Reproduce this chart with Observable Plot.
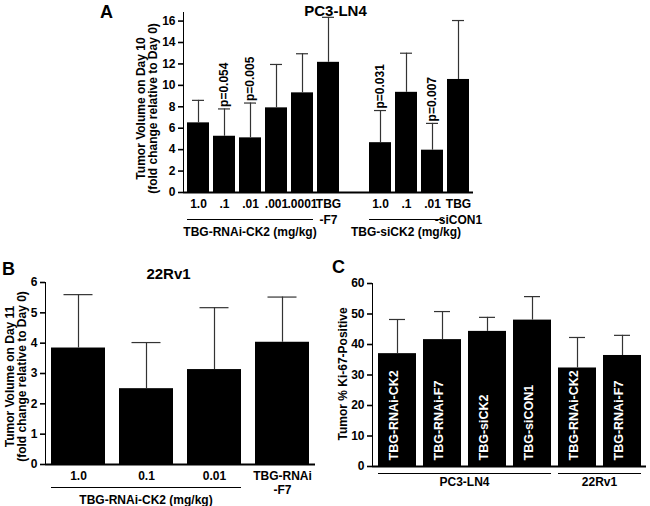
<!DOCTYPE html>
<html><head><meta charset="utf-8">
<script src="https://cdn.jsdelivr.net/npm/d3@7"></script>
<script src="https://cdn.jsdelivr.net/npm/@observablehq/plot@0.6"></script>
<style>
body{margin:0;background:#fff;}
#wrap{position:relative;width:650px;height:506px;overflow:hidden;background:#fff;}
#wrap svg{position:absolute;}
#wrap svg g[aria-label^="y-axis"] path,#wrap svg g[aria-label^="y-axis"] line{stroke-width:1.6px;}
</style></head><body><div id="wrap"></div>
<script>
const FONT = '"Liberation Sans", Arial, Helvetica, sans-serif';

// ---------- Panel A: PC3-LN4 ----------
const aTitle = "PC3-LN4";
const aYLabel = "Tumor Volume on Day 10\n(fold change relative to Day 0)";
const aIds = ["a1","a2","a3","a4","a5","a6","a7","a8","a9","a10"];
const aDomain = ["a1","a2","a3","a4","a5","a6","gap","a7","a8","a9","a10"];
const aLabels = ["1.0",".1",".01",".001",".0001","TBG\n-F7","1.0",".1",".01","TBG\n-siCON1"];
const aMeans = [6.5, 5.25, 5.1, 7.9, 9.3, 12.15, 4.65, 9.35, 3.95, 10.55];
const aErrs  = [2.1, 2.55, 3.25, 4.05, 3.65, 4.2, 3.0, 3.65, 2.5, 5.5];
const aPvals = ["","p=0.054","p=0.005","","","","p=0.031","","p=0.007",""];
const aYTicks = [0,2,4,6,8,10,12,14,16];
const aGroupLabels = ["TBG-RNAi-CK2 (mg/kg)","TBG-siCK2 (mg/kg)"];
const aGroupFrom = ["a1","a7"];
const aGroupTo = ["a5","a9"];

// ---------- Panel B: 22Rv1 ----------
const bTitle = "22Rv1";
const bYLabel = "Tumor Volume on Day 11\n(fold change relative to Day 0)";
const bIds = ["b1","b2","b3","b4"];
const bLabels = ["1.0","0.1","0.01","TBG-RNAi\n-F7"];
const bMeans = [3.84, 2.5, 3.13, 4.03];
const bErrs  = [1.76, 1.52, 2.04, 1.49];
const bYTicks = [0,1,2,3,4,5,6];
const bGroupLabels = ["TBG-RNAi-CK2 (mg/kg)"];
const bGroupFrom = ["b1"];
const bGroupTo = ["b3"];

// ---------- Panel C: Ki-67 ----------
const cYLabel = "Tumor % Ki-67-Positive";
const cIds = ["c1","c2","c3","c4","c5","c6"];
const cLabels = ["TBG-RNAi-CK2","TBG-RNAi-F7","TBG-siCK2","TBG-siCON1","TBG-RNAi-CK2","TBG-RNAi-F7"];
const cMeans = [37.0, 41.6, 44.3, 48.0, 32.3, 36.4];
const cErrs  = [11.2, 9.2, 4.6, 7.7, 10.0, 6.6];
const cYTicks = [0,10,20,30,40,50,60];
const cGroupLabels = ["PC3-LN4","22Rv1"];
const cGroupFrom = ["c1","c5"];
const cGroupTo = ["c4","c6"];

const wrap = document.getElementById("wrap");
const baseStyle = {fontFamily: FONT, fontSize: "12px", fontWeight: "bold", color: "#000", background: "transparent"};
const intFmt = d3.format("d");

function rows(ids, labels, means, errs, extra) {
  return ids.map((id, i) => ({id, label: labels[i], mean: means[i], err: errs[i], top: means[i] + errs[i], p: extra ? extra[i] : ""}));
}
function groups(labels, from, to) {
  return labels.map((label, i) => ({label, from: from[i], to: to[i]}));
}
function addGroupLabels(svg, grps, offset) {
  const x = svg.scale("x"), y = svg.scale("y");
  const base = y.apply(0);
  d3.select(svg).append("g").selectAll("text").data(grps).join("text")
    .attr("x", g => (x.apply(g.from) + x.apply(g.to) + x.bandwidth) / 2)
    .attr("y", base + offset)
    .attr("text-anchor", "middle")
    .attr("fill", "#000")
    .attr("font-family", FONT).attr("font-size", 12).attr("font-weight", "bold")
    .text(g => g.label);
}
function place(svg, left, top) {
  svg.style.left = left + "px";
  svg.style.top = top + "px";
  wrap.appendChild(svg);
}

// Panel A
const aRows = rows(aIds, aLabels, aMeans, aErrs, aPvals);
const aGrp = groups(aGroupLabels, aGroupFrom, aGroupTo);
const plotA = Plot.plot({
  width: 500, height: 245,
  marginLeft: 183, marginRight: 27, marginTop: 12, marginBottom: 53,
  style: baseStyle,
  x: {domain: aDomain, axis: null, paddingInner: 0.16, paddingOuter: 0.1},
  y: {domain: [0, 16.8], ticks: aYTicks, tickFormat: intFmt, tickSize: 5, tickPadding: 3, line: true, label: null},
  marks: [
    Plot.barY(aRows, {x: "id", y: "mean", fill: "#000"}),
    Plot.ruleX(aRows, {x: "id", y1: "mean", y2: "top", stroke: "#333", strokeWidth: 1.2}),
    Plot.tickY(aRows, {x: "id", y: "top", stroke: "#333", strokeWidth: 1.2, insetLeft: 5, insetRight: 5}),
    Plot.text(aRows.filter(d => d.p), {x: "id", y: "top", text: "p", rotate: -90, textAnchor: "start", dy: -2, fill: "#000"}),
    Plot.ruleY([0], {stroke: "#000", strokeWidth: 1.8}),
    Plot.text(aRows, {x: "id", text: "label", frameAnchor: "bottom", lineAnchor: "top", dy: 4.5, lineHeight: 1.3, fill: "#000"}),
    Plot.ruleY(aGrp, {x1: "from", x2: "to", y: () => 0, dy: 27, stroke: "#000", strokeWidth: 1.2}),
    Plot.text([aTitle], {text: d => d, frameAnchor: "top", textAnchor: "middle", dx: 7, dy: -7, fontSize: 15, fill: "#000"}),
    Plot.text(["A"], {text: d => d, frameAnchor: "top-left", textAnchor: "middle", dx: -77, dy: -7, fontSize: 18, fill: "#000"}),
    Plot.text([aYLabel], {text: d => d, frameAnchor: "left", textAnchor: "middle", rotate: -90, dx: -36, dy: 6, lineHeight: 0.96, fill: "#000"})
  ]
});
addGroupLabels(plotA, aGrp, 44);
place(plotA, 0, 0);

// Panel B
const bRows = rows(bIds, bLabels, bMeans, bErrs);
const bGrp = groups(bGroupLabels, bGroupFrom, bGroupTo);
const plotB = Plot.plot({
  width: 325, height: 261,
  marginLeft: 45, marginRight: 10, marginTop: 37, marginBottom: 42,
  style: baseStyle,
  x: {domain: bIds, axis: null, paddingInner: 0.2, paddingOuter: 0.06},
  y: {domain: [0, 6], ticks: bYTicks, tickFormat: intFmt, tickSize: 5, tickPadding: 3, line: true, label: null},
  marks: [
    Plot.barY(bRows, {x: "id", y: "mean", fill: "#000"}),
    Plot.ruleX(bRows, {x: "id", y1: "mean", y2: "top", stroke: "#333", strokeWidth: 1.2}),
    Plot.tickY(bRows, {x: "id", y: "top", stroke: "#333", strokeWidth: 1.2, insetLeft: 12.5, insetRight: 12.5}),
    Plot.ruleY([0], {stroke: "#000", strokeWidth: 1.8}),
    Plot.text(bRows, {x: "id", text: "label", frameAnchor: "bottom", lineAnchor: "top", dy: 6.5, lineHeight: 1.1, fill: "#000"}),
    Plot.ruleY(bGrp, {x1: "from", x2: "to", y: () => 0, dy: 23, stroke: "#000", strokeWidth: 1.2}),
    Plot.text([bTitle], {text: d => d, frameAnchor: "top", textAnchor: "middle", dx: -12, dy: -14, fontSize: 15, fill: "#000"}),
    Plot.text(["B"], {text: d => d, frameAnchor: "top-left", textAnchor: "middle", dx: -37, dy: -20, fontSize: 18, fill: "#000"}),
    Plot.text([bYLabel], {text: d => d, frameAnchor: "left", textAnchor: "middle", rotate: -90, dx: -29, dy: 3, lineHeight: 1.0, fill: "#000"})
  ]
});
addGroupLabels(plotB, bGrp, 40);
place(plotB, 0, 245);

// Panel C
const cRows = rows(cIds, cLabels, cMeans, cErrs);
const cGrp = groups(cGroupLabels, cGroupFrom, cGroupTo);
const plotC = Plot.plot({
  width: 325, height: 261,
  marginLeft: 47, marginRight: 4, marginTop: 38, marginBottom: 40,
  style: baseStyle,
  x: {domain: cIds, axis: null, paddingInner: 0.16, paddingOuter: 0.08},
  y: {domain: [0, 60], ticks: cYTicks, tickFormat: intFmt, tickSize: 5, tickPadding: 3, line: true, label: null},
  marks: [
    Plot.barY(cRows, {x: "id", y: "mean", fill: "#000"}),
    Plot.ruleX(cRows, {x: "id", y1: "mean", y2: "top", stroke: "#333", strokeWidth: 1.2}),
    Plot.tickY(cRows, {x: "id", y: "top", stroke: "#333", strokeWidth: 1.2, insetLeft: 11, insetRight: 11}),
    Plot.text(cRows, {x: "id", text: "label", frameAnchor: "bottom", rotate: -90, textAnchor: "start", dy: -6, fontSize: 12.5, fill: "#fff"}),
    Plot.ruleY([0], {stroke: "#000", strokeWidth: 1.8}),
    Plot.ruleY(cGrp, {x1: "from", x2: "to", y: () => 0, dy: 7, stroke: "#000", strokeWidth: 1.2}),
    Plot.text(["C"], {text: d => d, frameAnchor: "top-left", textAnchor: "middle", dx: -34, dy: -23, fontSize: 18, fill: "#000"}),
    Plot.text([cYLabel], {text: d => d, frameAnchor: "left", textAnchor: "middle", rotate: -90, dx: -29, dy: -1, fill: "#000"})
  ]
});
addGroupLabels(plotC, cGrp, 20);
place(plotC, 325, 245);
</script>
</body></html>
